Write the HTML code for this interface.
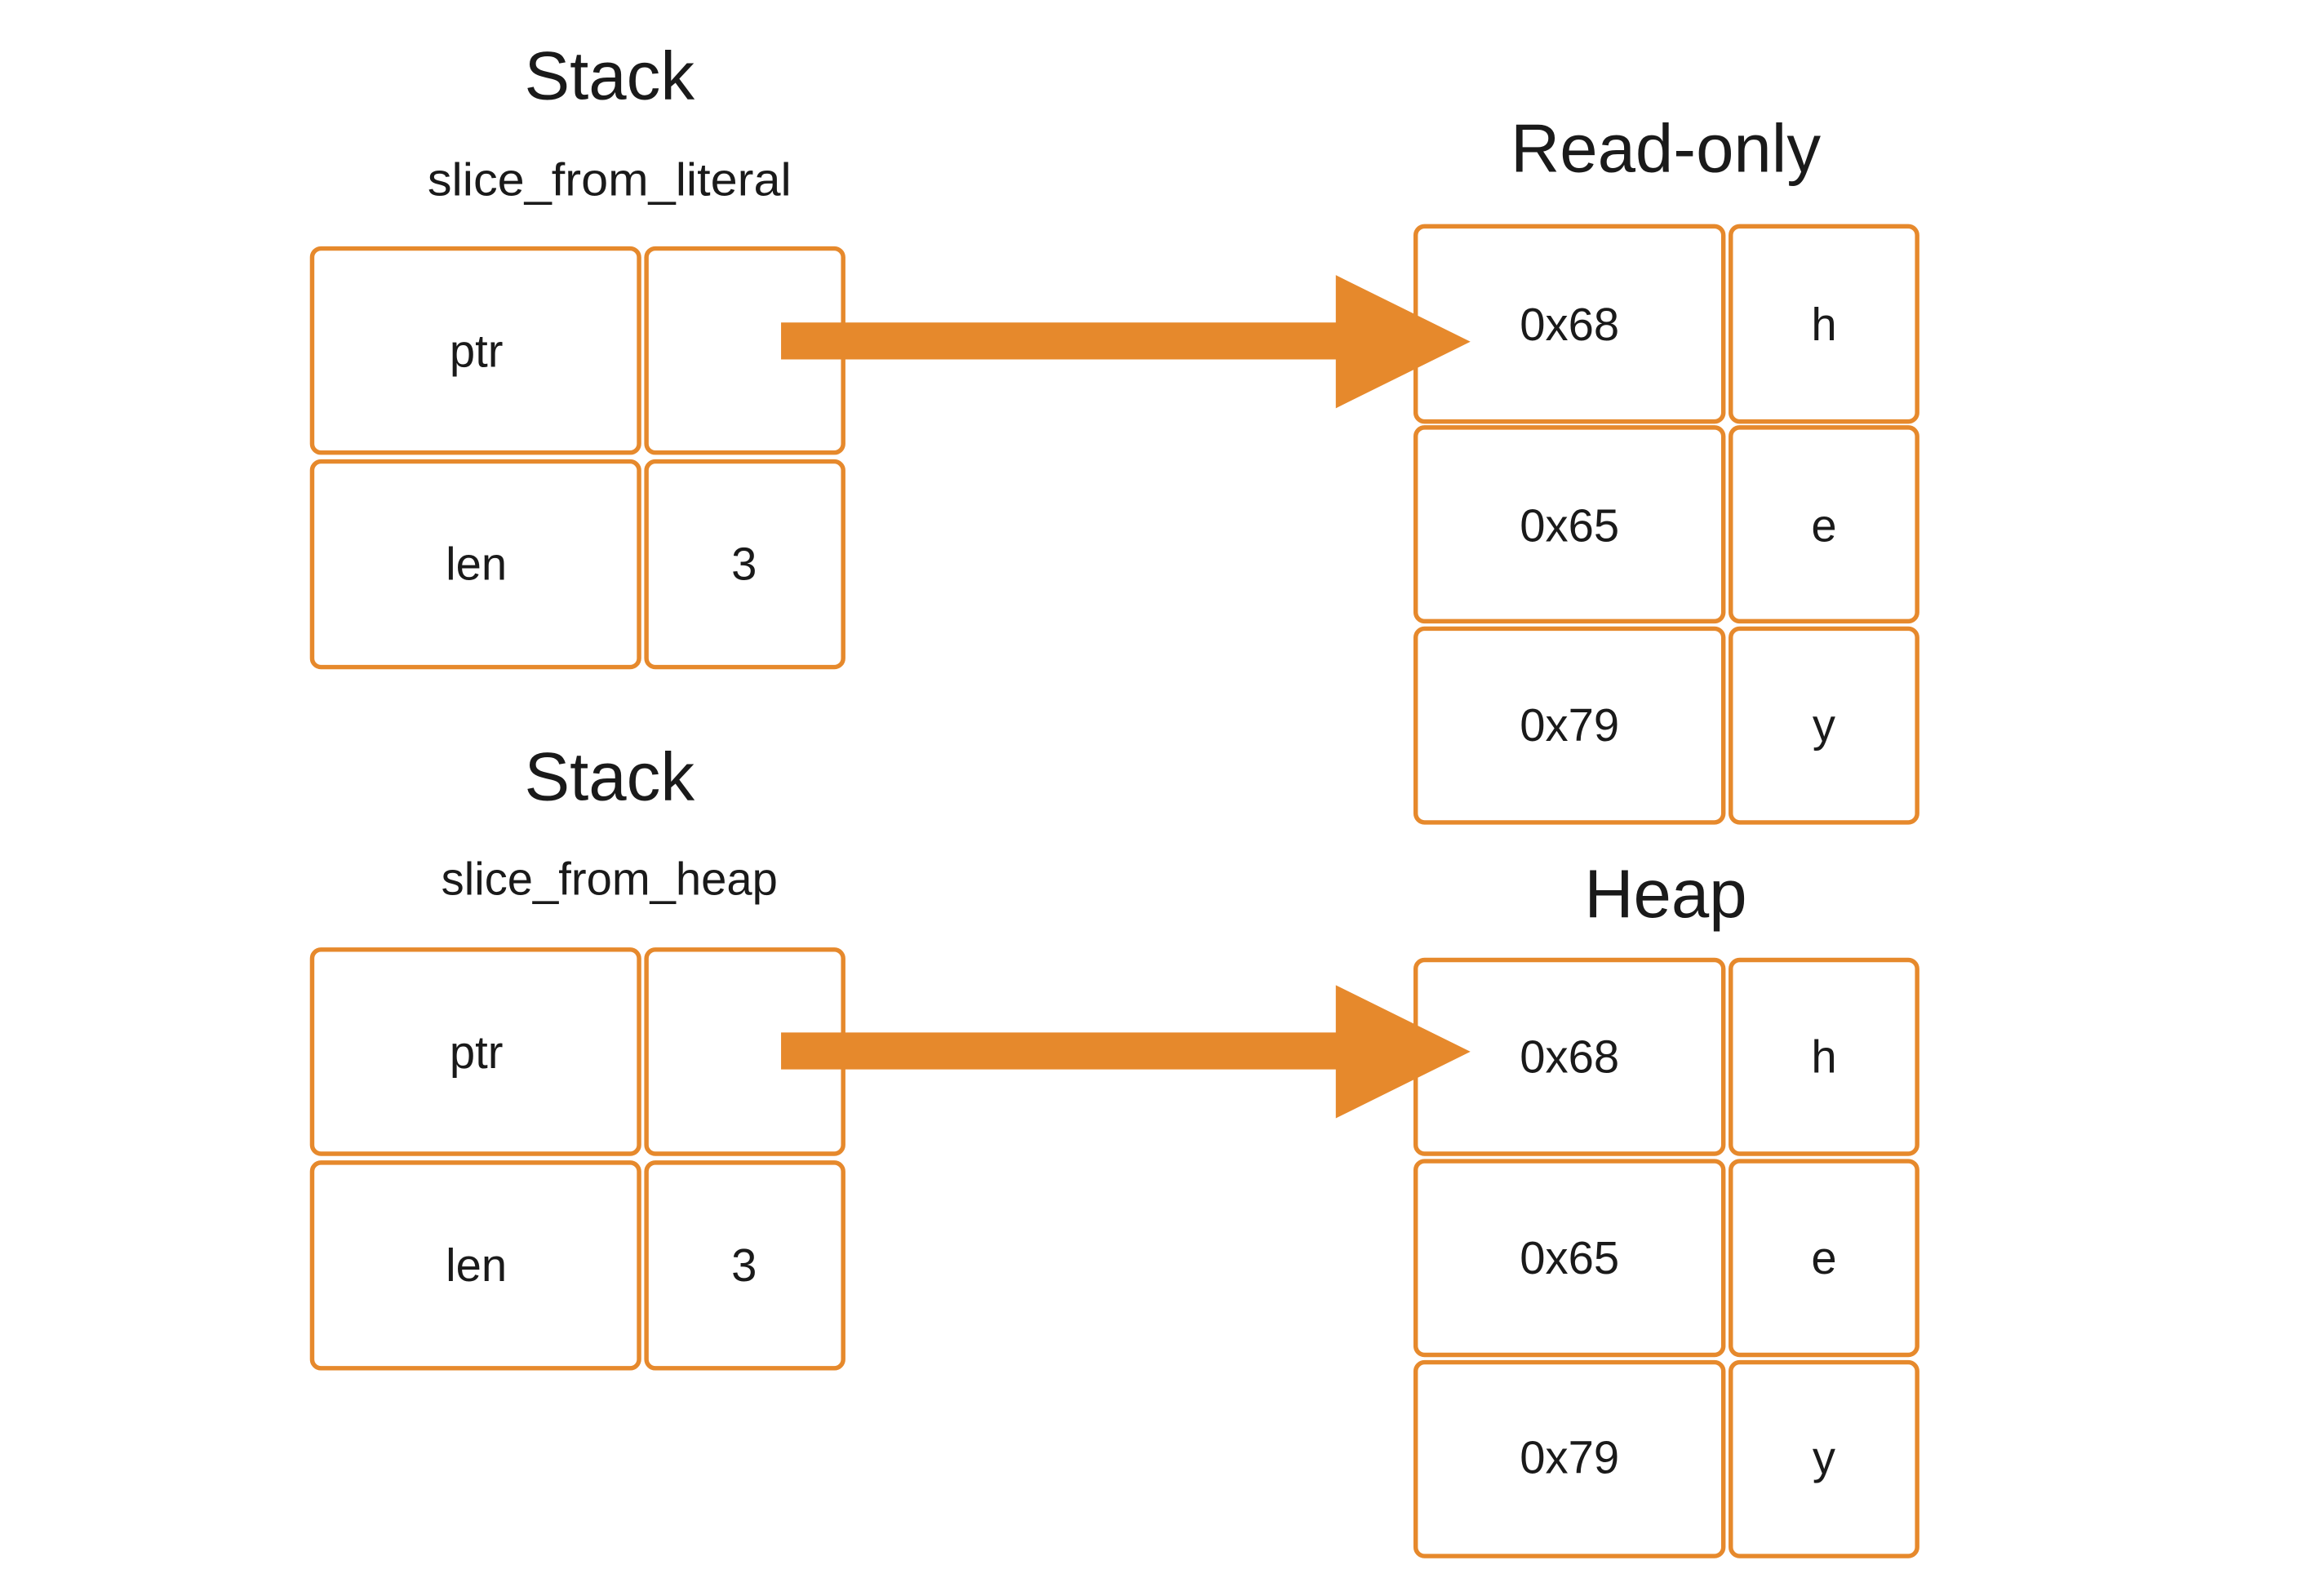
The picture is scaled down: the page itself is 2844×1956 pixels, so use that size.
<!DOCTYPE html>
<html><head><meta charset="utf-8"><style>
html,body{margin:0;padding:0;background:#fff;}
svg{display:block;}
text{font-family:"Liberation Sans",sans-serif;fill:#1a1a1a;text-anchor:middle;}
.b{fill:#fff;stroke:#E6892C;stroke-width:3;}
.t{font-size:46px;}
.s{font-size:31px;}
.c{font-size:31px;}
</style></head><body>
<svg width="2844" height="1956" viewBox="0 0 1569 1079" preserveAspectRatio="none">
<text class="t" x="412" y="67">Stack</text>
<text class="s" x="412" y="132" textLength="246" lengthAdjust="spacingAndGlyphs">slice_from_literal</text>
<rect class="b" x="211" y="168" width="221" height="138" rx="6"/>
<rect class="b" x="437" y="168" width="133" height="138" rx="6"/>
<rect class="b" x="211" y="312" width="221" height="139" rx="6"/>
<rect class="b" x="437" y="312" width="133" height="139" rx="6"/>
<text class="c" x="322" y="248">ptr</text>
<text class="c" x="322" y="392">len</text>
<text class="c" x="503" y="392">3</text>

<text class="t" x="412" y="541">Stack</text>
<text class="s" x="412" y="605">slice_from_heap</text>
<rect class="b" x="211" y="642" width="221" height="138" rx="6"/>
<rect class="b" x="437" y="642" width="133" height="138" rx="6"/>
<rect class="b" x="211" y="786" width="221" height="139" rx="6"/>
<rect class="b" x="437" y="786" width="133" height="139" rx="6"/>
<text class="c" x="322" y="722">ptr</text>
<text class="c" x="322" y="866">len</text>
<text class="c" x="503" y="866">3</text>

<text class="t" x="1126" y="116">Read-only</text>
<rect class="b" x="957" y="153" width="208" height="132" rx="6"/>
<rect class="b" x="1170" y="153" width="126" height="132" rx="6"/>
<rect class="b" x="957" y="289" width="208" height="131" rx="6"/>
<rect class="b" x="1170" y="289" width="126" height="131" rx="6"/>
<rect class="b" x="957" y="425" width="208" height="131" rx="6"/>
<rect class="b" x="1170" y="425" width="126" height="131" rx="6"/>
<text class="c" x="1061" y="230">0x68</text><text class="c" x="1233" y="230">h</text>
<text class="c" x="1061" y="366">0x65</text><text class="c" x="1233" y="366">e</text>
<text class="c" x="1061" y="501">0x79</text><text class="c" x="1233" y="501">y</text>

<text class="t" x="1126" y="620">Heap</text>
<rect class="b" x="957" y="649" width="208" height="131" rx="6"/>
<rect class="b" x="1170" y="649" width="126" height="131" rx="6"/>
<rect class="b" x="957" y="785" width="208" height="131" rx="6"/>
<rect class="b" x="1170" y="785" width="126" height="131" rx="6"/>
<rect class="b" x="957" y="921" width="208" height="131" rx="6"/>
<rect class="b" x="1170" y="921" width="126" height="131" rx="6"/>
<text class="c" x="1061" y="725">0x68</text><text class="c" x="1233" y="725">h</text>
<text class="c" x="1061" y="861">0x65</text><text class="c" x="1233" y="861">e</text>
<text class="c" x="1061" y="996">0x79</text><text class="c" x="1233" y="996">y</text>

<polygon fill="#E6892C" points="528,218 903,218 903,186 994,231 903,276 903,243 528,243"/>
<polygon fill="#E6892C" points="528,698 903,698 903,666 994,711 903,756 903,723 528,723"/>
</svg>
</body></html>
